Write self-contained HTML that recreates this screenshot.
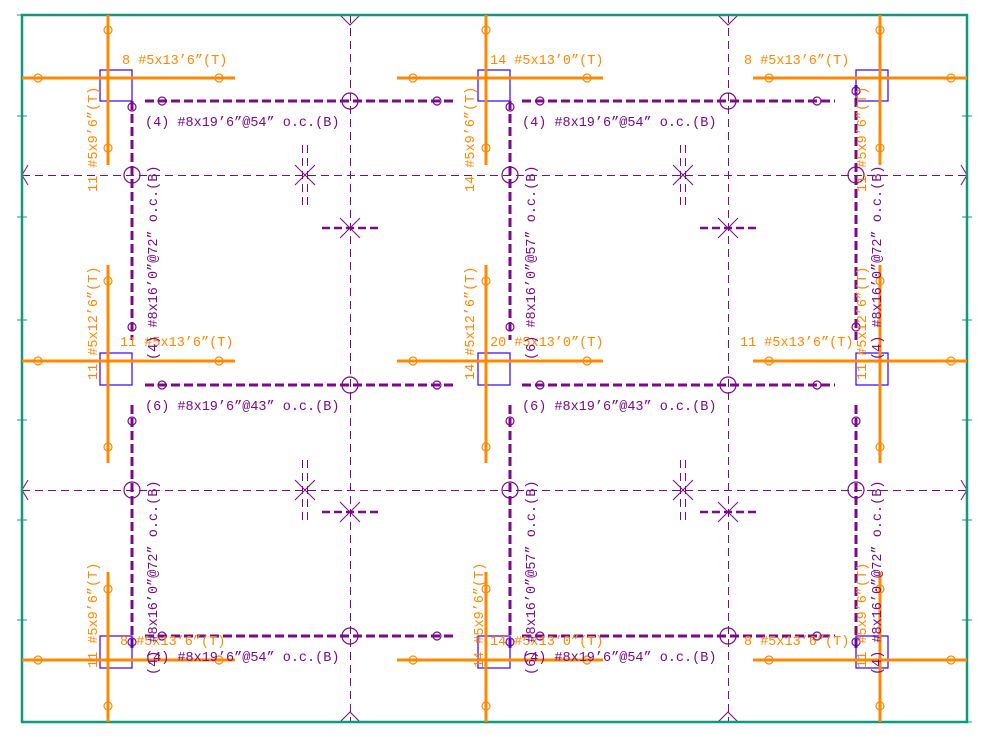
<!DOCTYPE html>
<html><head><meta charset="utf-8"><style>
html,body{margin:0;padding:0;background:#fff;}
svg{display:block;}
text{font-family:"Liberation Mono",monospace;font-size:13.5px;}
.o{fill:#ff8800;} .p{fill:#7a0a8a;}
</style></head><body>
<svg width="991" height="751" viewBox="0 0 991 751" xmlns="http://www.w3.org/2000/svg">
<rect width="991" height="751" fill="#fff"/>
<g stroke="#7a0a8a" stroke-width="1" stroke-dasharray="8,5" fill="none" shape-rendering="crispEdges">
<line x1="350.5" y1="15" x2="350.5" y2="722"/><line x1="728.5" y1="15" x2="728.5" y2="722"/>
<line x1="22" y1="175.5" x2="967" y2="175.5"/><line x1="22" y1="490.5" x2="967" y2="490.5"/>
<line x1="302.5" y1="145" x2="302.5" y2="205"/><line x1="307.5" y1="145" x2="307.5" y2="205"/>
<line x1="680.5" y1="145" x2="680.5" y2="205"/><line x1="685.5" y1="145" x2="685.5" y2="205"/>
<line x1="302.5" y1="460" x2="302.5" y2="520"/><line x1="307.5" y1="460" x2="307.5" y2="520"/>
<line x1="680.5" y1="460" x2="680.5" y2="520"/><line x1="685.5" y1="460" x2="685.5" y2="520"/>
<line x1="22" y1="140" x2="22" y2="210"/><line x1="22" y1="455" x2="22" y2="525"/>
<line x1="967" y1="140" x2="967" y2="210"/><line x1="967" y1="455" x2="967" y2="525"/>
</g>
<g stroke="#7a0a8a" stroke-width="1" fill="none">
<path d="M295 165l20 20M315 165l-20 20M673 165l20 20M693 165l-20 20M295 480l20 20M315 480l-20 20M673 480l20 20M693 480l-20 20"/>
<path d="M340 218l20 20M360 218l-20 20M718 218l20 20M738 218l-20 20M340 502l20 20M360 502l-20 20M718 502l20 20M738 502l-20 20"/>
<path d="M340 15l10 10l10-10M718 15l10 10l10-10M340 722l10-10l10 10M718 722l10-10l10 10M28 165l-6 10l6 10M961 165l6 10l-6 10M28 480l-6 10l6 10M961 480l6 10l-6 10"/>
</g>
<g stroke="#7a0a8a" stroke-width="2.5" stroke-dasharray="8,4">
<line x1="322" y1="228" x2="382" y2="228"/><line x1="700" y1="228" x2="760" y2="228"/>
<line x1="322" y1="512" x2="382" y2="512"/><line x1="700" y1="512" x2="760" y2="512"/>
</g>
<g stroke="#0f9a7a" fill="none">
<rect x="22" y="15" width="945" height="707" stroke-width="2.5"/>
<path d="M17 116h10M17 217h10M17 320h10M17 420h10M17 520h10M17 620h10M962 116h10M962 217h10M962 320h10M962 420h10M962 520h10M962 620h10M17 15h10M962 722h10" stroke-width="1"/>
</g>
<g stroke="#7a0a8a" stroke-width="3" stroke-dasharray="9,4" fill="none">
<line x1="145" y1="101" x2="455" y2="101"/><line x1="522" y1="101" x2="835" y2="101"/>
<line x1="145" y1="385" x2="455" y2="385"/><line x1="522" y1="385" x2="835" y2="385"/>
<line x1="145" y1="636" x2="455" y2="636"/><line x1="522" y1="636" x2="835" y2="636"/>
<line x1="132" y1="101" x2="132" y2="340"/><line x1="132" y1="405" x2="132" y2="650"/>
<line x1="510" y1="101" x2="510" y2="340"/><line x1="510" y1="405" x2="510" y2="650"/>
<line x1="856" y1="85" x2="856" y2="340"/><line x1="856" y1="405" x2="856" y2="650"/>
</g>
<g stroke="#7a0a8a" stroke-width="1.2" fill="none">
<circle cx="350" cy="101" r="8"/><circle cx="728" cy="101" r="8"/><circle cx="350" cy="385" r="8"/><circle cx="728" cy="385" r="8"/><circle cx="350" cy="636" r="8"/><circle cx="728" cy="636" r="8"/>
<circle cx="132" cy="175" r="8"/><circle cx="510" cy="175" r="8"/><circle cx="856" cy="175" r="8"/><circle cx="132" cy="490" r="8"/><circle cx="510" cy="490" r="8"/><circle cx="856" cy="490" r="8"/>
<circle cx="162" cy="101" r="4"/><circle cx="437" cy="101" r="4"/><circle cx="540" cy="101" r="4"/><circle cx="817" cy="101" r="4"/>
<circle cx="162" cy="385" r="4"/><circle cx="437" cy="385" r="4"/><circle cx="540" cy="385" r="4"/><circle cx="817" cy="385" r="4"/>
<circle cx="162" cy="636" r="4"/><circle cx="437" cy="636" r="4"/><circle cx="540" cy="636" r="4"/><circle cx="817" cy="636" r="4"/>
<circle cx="132" cy="107" r="4"/><circle cx="132" cy="327" r="4"/><circle cx="132" cy="421" r="4"/><circle cx="132" cy="642" r="4"/>
<circle cx="510" cy="107" r="4"/><circle cx="510" cy="327" r="4"/><circle cx="510" cy="421" r="4"/><circle cx="510" cy="642" r="4"/>
<circle cx="856" cy="91" r="4"/><circle cx="856" cy="327" r="4"/><circle cx="856" cy="421" r="4"/><circle cx="856" cy="642" r="4"/>
</g>
<g stroke="#3300ff" stroke-width="1.2" fill="none">
<rect x="100" y="70" width="32" height="31"/><rect x="478" y="70" width="32" height="31"/><rect x="856" y="70" width="32" height="31"/>
<rect x="100" y="353" width="32" height="32"/><rect x="478" y="353" width="32" height="32"/><rect x="856" y="353" width="32" height="32"/>
<rect x="100" y="636" width="32" height="32"/><rect x="478" y="636" width="32" height="32"/><rect x="856" y="636" width="32" height="32"/>
</g>
<g stroke="#ff8800" stroke-width="3" fill="none">
<line x1="22" y1="78" x2="235" y2="78"/><line x1="397" y1="78" x2="603" y2="78"/><line x1="753" y1="78" x2="967" y2="78"/>
<line x1="22" y1="361" x2="235" y2="361"/><line x1="397" y1="361" x2="603" y2="361"/><line x1="753" y1="361" x2="967" y2="361"/>
<line x1="22" y1="660" x2="235" y2="660"/><line x1="397" y1="660" x2="603" y2="660"/><line x1="753" y1="660" x2="967" y2="660"/>
<line x1="108" y1="15" x2="108" y2="165"/><line x1="486" y1="15" x2="486" y2="165"/><line x1="880" y1="15" x2="880" y2="165"/>
<line x1="108" y1="265" x2="108" y2="463"/><line x1="486" y1="265" x2="486" y2="463"/><line x1="880" y1="265" x2="880" y2="463"/>
<line x1="108" y1="572" x2="108" y2="722"/><line x1="486" y1="572" x2="486" y2="722"/><line x1="880" y1="572" x2="880" y2="722"/>
</g>
<g stroke="#ff8800" stroke-width="1.2" fill="none">
<circle cx="38" cy="78" r="4"/><circle cx="219" cy="78" r="4"/><circle cx="413" cy="78" r="4"/><circle cx="587" cy="78" r="4"/><circle cx="769" cy="78" r="4"/><circle cx="951" cy="78" r="4"/>
<circle cx="38" cy="361" r="4"/><circle cx="219" cy="361" r="4"/><circle cx="413" cy="361" r="4"/><circle cx="587" cy="361" r="4"/><circle cx="769" cy="361" r="4"/><circle cx="951" cy="361" r="4"/>
<circle cx="38" cy="660" r="4"/><circle cx="219" cy="660" r="4"/><circle cx="413" cy="660" r="4"/><circle cx="587" cy="660" r="4"/><circle cx="769" cy="660" r="4"/><circle cx="951" cy="660" r="4"/>
<circle cx="108" cy="30" r="4"/><circle cx="108" cy="148" r="4"/><circle cx="486" cy="30" r="4"/><circle cx="486" cy="148" r="4"/><circle cx="880" cy="30" r="4"/><circle cx="880" cy="148" r="4"/>
<circle cx="108" cy="281" r="4"/><circle cx="108" cy="447" r="4"/><circle cx="486" cy="281" r="4"/><circle cx="486" cy="447" r="4"/><circle cx="880" cy="281" r="4"/><circle cx="880" cy="447" r="4"/>
<circle cx="108" cy="589" r="4"/><circle cx="108" cy="706" r="4"/><circle cx="486" cy="589" r="4"/><circle cx="486" cy="706" r="4"/><circle cx="880" cy="589" r="4"/><circle cx="880" cy="706" r="4"/>
</g>
<text class="o" x="122" y="64">8 #5x13’6”(T)</text>
<text class="o" x="490" y="64">14 #5x13’0”(T)</text>
<text class="o" x="744" y="64">8 #5x13’6”(T)</text>
<text class="o" x="120" y="346">11 #5x13’6”(T)</text>
<text class="o" x="490" y="346">20 #5x13’0”(T)</text>
<text class="o" x="740" y="346">11 #5x13’6”(T)</text>
<text class="o" x="120" y="645">8 #5x13’6”(T)</text>
<text class="o" x="490" y="645">14 #5x13’0”(T)</text>
<text class="o" x="744" y="645">8 #5x13’6”(T)</text>
<text class="p" x="145" y="126">(4) #8x19’6”@54” o.c.(B)</text>
<text class="p" x="522" y="126">(4) #8x19’6”@54” o.c.(B)</text>
<text class="p" x="145" y="410">(6) #8x19’6”@43” o.c.(B)</text>
<text class="p" x="522" y="410">(6) #8x19’6”@43” o.c.(B)</text>
<text class="p" x="145" y="661">(4) #8x19’6”@54” o.c.(B)</text>
<text class="p" x="522" y="661">(4) #8x19’6”@54” o.c.(B)</text>
<text class="o" transform="translate(97,192) rotate(-90)">11 #5x9’6”(T)</text>
<text class="o" transform="translate(97,380) rotate(-90)">11 #5x12’6”(T)</text>
<text class="o" transform="translate(97,668) rotate(-90)">11 #5x9’6”(T)</text>
<text class="o" transform="translate(474,192) rotate(-90)">14 #5x9’6”(T)</text>
<text class="o" transform="translate(474,380) rotate(-90)">14 #5x12’6”(T)</text>
<text class="o" transform="translate(483,668) rotate(-90)">14 #5x9’6”(T)</text>
<text class="o" transform="translate(866,192) rotate(-90)">11 #5x9’6”(T)</text>
<text class="o" transform="translate(866,380) rotate(-90)">11 #5x12’6”(T)</text>
<text class="o" transform="translate(866,668) rotate(-90)">11 #5x9’6”(T)</text>
<text class="p" transform="translate(157,360) rotate(-90)">(4) #8x16’0”@72” o.c.(B)</text>
<text class="p" transform="translate(157,675) rotate(-90)">(4) #8x16’0”@72” o.c.(B)</text>
<text class="p" transform="translate(535,360) rotate(-90)">(6) #8x16’0”@57” o.c.(B)</text>
<text class="p" transform="translate(535,675) rotate(-90)">(6) #8x16’0”@57” o.c.(B)</text>
<text class="p" transform="translate(881,360) rotate(-90)">(4) #8x16’0”@72” o.c.(B)</text>
<text class="p" transform="translate(881,675) rotate(-90)">(4) #8x16’0”@72” o.c.(B)</text>
</svg>
</body></html>
